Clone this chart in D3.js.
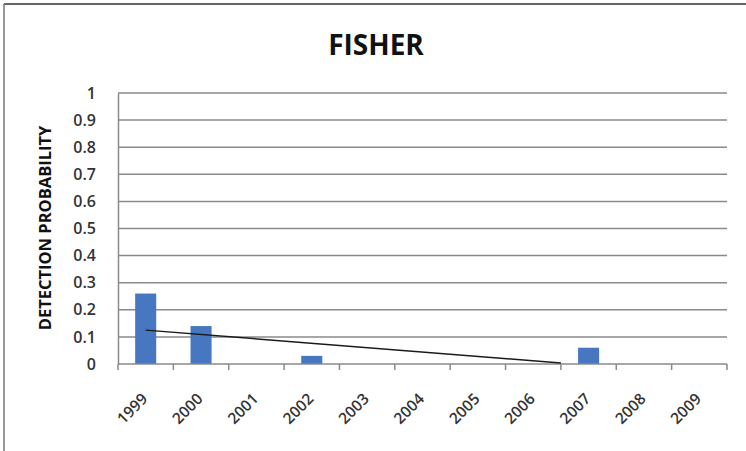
<!DOCTYPE html>
<html>
<head>
<meta charset="utf-8">
<script src="https://cdn.jsdelivr.net/npm/d3@7"></script>
<style>
  html, body { margin: 0; padding: 0; background: #fff; }
  svg { display: block; }
</style>
</head>
<body>
<script>
// Yearly detection probability for fisher
const years = ["1999", "2000", "2001", "2002", "2003", "2004", "2005", "2006", "2007", "2008", "2009"];
const detection = [0.26, 0.14, 0, 0.03, 0, 0, 0, 0, 0.06, 0, 0];
const yTicks = [0, 0.1, 0.2, 0.3, 0.4, 0.5, 0.6, 0.7, 0.8, 0.9, 1];
// Linear trend: [position in year slots from 1999, value]
const trend = [[0, 0.125], [7.5, 0.004]];

const W = 746, H = 451;
const margin = { left: 118, right: 19, top: 93, bottom: 87 };

const svg = d3.select("body").append("svg")
  .attr("width", W).attr("height", H);

// frame edges
svg.append("line").attr("x1", 4).attr("x2", W).attr("y1", 4).attr("y2", 4)
  .attr("stroke", "#333").attr("stroke-width", 1.5);
svg.append("line").attr("x1", 4).attr("x2", 4).attr("y1", 4).attr("y2", H)
  .attr("stroke", "#777").attr("stroke-width", 1.5);

const x = d3.scaleBand().domain(years)
  .range([margin.left, W - margin.right]).paddingInner(0).paddingOuter(0);
const y = d3.scaleLinear().domain([0, 1]).range([H - margin.bottom, margin.top]);
const xPos = d3.scaleLinear().domain([0, 1])
  .range([x(years[0]) + x.bandwidth() / 2, x(years[1]) + x.bandwidth() / 2]);

// title
svg.append("text")
  .attr("x", 376).attr("y", 55)
  .attr("text-anchor", "middle")
  .attr("font-family", "Open Sans, sans-serif")
  .attr("font-weight", "bold")
  .attr("font-size", 28)
  .attr("fill", "#111")
  .text("FISHER");

// horizontal gridlines
svg.append("g").selectAll("line").data(yTicks.filter(d => d > 0)).join("line")
  .attr("x1", margin.left).attr("x2", W - margin.right)
  .attr("y1", d => y(d)).attr("y2", d => y(d))
  .attr("stroke", "#8a8a8a").attr("stroke-width", 1.5);

// y axis
const yAxis = svg.append("g")
  .attr("transform", `translate(${margin.left},0)`)
  .call(d3.axisLeft(y).tickValues(yTicks).tickFormat(d3.format("")).tickSize(0).tickPadding(22));
yAxis.select(".domain").attr("stroke", "#8a8a8a").attr("stroke-width", 1.5);
yAxis.selectAll("text")
  .attr("font-family", "Open Sans, sans-serif")
  .attr("font-size", 16)
  .attr("font-weight", 600)
  .attr("fill", "#333");

// y axis title
svg.append("text")
  .attr("transform", `translate(51,228) rotate(-90)`)
  .attr("text-anchor", "middle")
  .attr("font-family", "Open Sans, sans-serif")
  .attr("font-weight", "bold")
  .attr("font-size", 16.5)
  .attr("fill", "#111")
  .text("DETECTION PROBABILITY");

// bars
const barW = x.bandwidth() * 0.38;
svg.append("g").selectAll("rect").data(years.map((yr, i) => ({ yr, v: detection[i] })).filter(d => d.v > 0))
  .join("rect")
  .attr("x", d => x(d.yr) + x.bandwidth() / 2 - barW / 2)
  .attr("width", barW)
  .attr("y", d => y(d.v))
  .attr("height", d => y(0) - y(d.v))
  .attr("fill", "#4677c0");

// x axis with ticks at slot boundaries
const xAxisG = svg.append("g").attr("transform", `translate(0,${y(0)})`);
xAxisG.append("line")
  .attr("x1", margin.left).attr("x2", W - margin.right)
  .attr("stroke", "#8a8a8a").attr("stroke-width", 1.5);
const bounds = years.map(d => x(d)).concat([x(years[years.length - 1]) + x.bandwidth()]);
xAxisG.selectAll("line.tick").data(bounds).join("line")
  .attr("class", "tick")
  .attr("x1", d => d).attr("x2", d => d)
  .attr("y1", 0).attr("y2", 6)
  .attr("stroke", "#8a8a8a").attr("stroke-width", 1.5);
xAxisG.selectAll("text").data(years).join("text")
  .attr("transform", d => `translate(${x(d) + x.bandwidth() / 2 - 1},${32}) rotate(-45)`)
  .attr("text-anchor", "end")
  .attr("dy", "0.35em")
  .attr("font-family", "Open Sans, sans-serif")
  .attr("font-size", 15.5)
  .attr("font-weight", 600)
  .attr("fill", "#333")
  .text(d => d);

// trend line
svg.append("path")
  .datum(trend)
  .attr("d", d3.line().x(d => xPos(d[0])).y(d => y(d[1])))
  .attr("fill", "none")
  .attr("stroke", "#1a1a1a")
  .attr("stroke-width", 1.5);
</script>
</body>
</html>
